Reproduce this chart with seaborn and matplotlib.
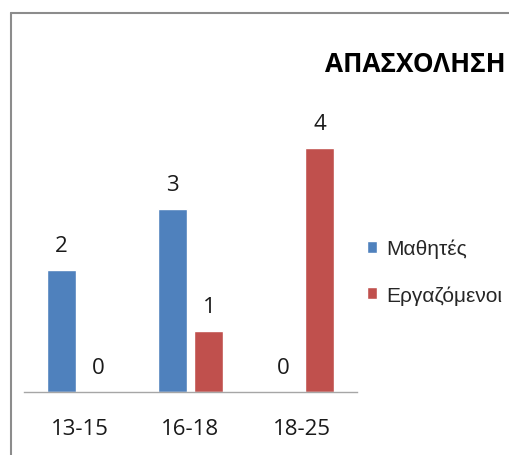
import matplotlib
matplotlib.use("Agg")
import matplotlib.pyplot as plt
from matplotlib.lines import Line2D
import seaborn as sns
import pandas as pd

categories = ["13-15", "16-18", "18-25"]
students = [2, 3, 0]
workers = [0, 1, 4]
series_names = ["Μαθητές", "Εργαζόμενοι"]
title = "ΑΠΑΣΧΟΛΗΣΗ"

df = pd.DataFrame({
    "Ηλικία": categories * 2,
    "Πλήθος": students + workers,
    "Ομάδα": [series_names[0]] * len(categories) + [series_names[1]] * len(categories),
})

sns.set_theme(style="white")
plt.rcParams["font.family"] = ["Open Sans", "DejaVu Sans"]

W, H = 510, 456
fig = plt.figure(figsize=(W / 100, H / 100), dpi=100)
fig.patch.set_facecolor("white")
ax = fig.add_axes([24 / W, (H - 393) / H, 333 / W, 305 / H])

palette = {series_names[0]: "#4F81BD", series_names[1]: "#C0504D"}
sns.barplot(data=df, x="Ηλικία", y="Πλήθος", hue="Ομάδα", palette=palette,
            width=0.66, gap=0.21, ax=ax, saturation=1, errorbar=None)

for c in ax.containers:
    ax.bar_label(c, fmt="%d", padding=10, fontsize=16, color="#1a1a1a")

ax.set_xlim(-0.5, 2.5)
ax.set_ylim(0, 5)
ax.set_xlabel("")
ax.set_ylabel("")
ax.set_yticks([])
ax.tick_params(axis="x", length=0, pad=19, labelsize=16, labelcolor="#1a1a1a")
for s in ["top", "right", "left"]:
    ax.spines[s].set_visible(False)
ax.spines["bottom"].set_color("#a6a6a6")
ax.spines["bottom"].set_linewidth(1.0)

handles, labels = ax.get_legend_handles_labels()
if ax.get_legend() is not None:
    ax.get_legend().remove()
fig.legend(handles, labels, loc="center left",
           bbox_to_anchor=(367 / W, 1 - 272.5 / H), bbox_transform=fig.transFigure,
           frameon=False, borderpad=0, borderaxespad=0,
           handlelength=0.5, handleheight=0.5, handletextpad=0.42,
           labelspacing=1.3, prop={"family": ["Liberation Sans", "DejaVu Sans"], "size": 15})

fig.text(325 / W, 1 - 72 / H, title, ha="left", va="baseline",
         fontsize=18.8, fontweight="bold", color="black")

frame_color = "#8c8c8c"
fig.add_artist(Line2D([11 / W, 11 / W], [0, 1 - 13.5 / H], color=frame_color,
                      lw=1.5, transform=fig.transFigure))
fig.add_artist(Line2D([11 / W, 1], [1 - 13.5 / H, 1 - 13.5 / H], color=frame_color,
                      lw=1.5, transform=fig.transFigure))

fig.savefig("out.png", dpi=100, facecolor="white")
